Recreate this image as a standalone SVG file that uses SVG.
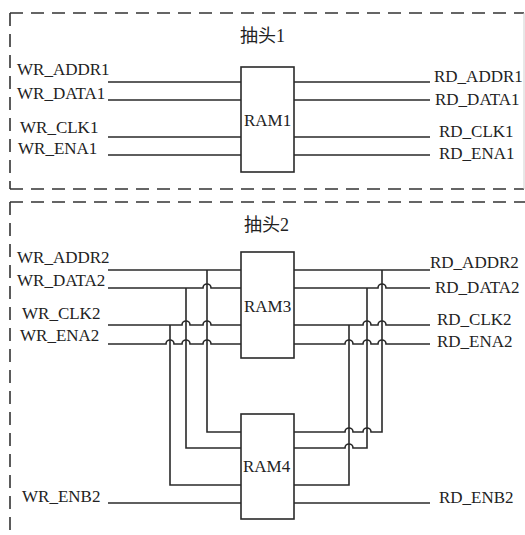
<svg xmlns="http://www.w3.org/2000/svg" width="525" height="535" viewBox="0 0 525 535">
<style>
.bg{fill:#fff}
.frame{fill:none;stroke:#333;stroke-width:1.6;stroke-dasharray:13 8}
.faint{fill:none;stroke:#d0d0d0;stroke-width:1}
.box{fill:#fff;stroke:#2a2a2a;stroke-width:1.6}
.w{fill:none;stroke:#2a2a2a;stroke-width:1.6}
text{font-family:"Liberation Serif","Noto Sans CJK SC",serif;font-size:17px;fill:#222}
.title{font-size:18px}
</style>
<rect class="bg" x="0" y="0" width="525" height="535"/>
<g id="frames">
<path class="frame" d="M10 13 H524 M10 189 H524 M10 13 V189"/>
<line class="faint" x1="524" y1="13" x2="524" y2="189"/>
<path class="frame" d="M10 202 H525 M10 202 V535"/>
</g>
<g id="connectors">
<path class="w" d="M108 82 H241 M108 100 H241 M108 137 H241 M108 155 H241"/>
<path class="w" d="M294 82 H430 M294 100 H430 M294 137 H430 M294 155 H430"/>
<path class="w" d="M108 270 H241"/>
<path class="w" d="M108 288 H203 a4 4 0 0 1 8 0 H241"/>
<path class="w" d="M108 325 H182 a4 4 0 0 1 8 0 H203 a4 4 0 0 1 8 0 H241"/>
<path class="w" d="M108 344 H166 a4 4 0 0 1 8 0 H182 a4 4 0 0 1 8 0 H203 a4 4 0 0 1 8 0 H241"/>
<path class="w" d="M207 270 V432 H241"/>
<path class="w" d="M186 288 V448 H241"/>
<path class="w" d="M170 325 V485 H241"/>
<path class="w" d="M108 503 H241"/>
<path class="w" d="M294 270 H430"/>
<path class="w" d="M294 288 H378 a4 4 0 0 1 8 0 H430"/>
<path class="w" d="M294 325 H363 a4 4 0 0 1 8 0 H378 a4 4 0 0 1 8 0 H430"/>
<path class="w" d="M294 344 H345 a4 4 0 0 1 8 0 H363 a4 4 0 0 1 8 0 H378 a4 4 0 0 1 8 0 H430"/>
<path class="w" d="M294 432 H345 a4 4 0 0 1 8 0 H363 a4 4 0 0 1 8 0 H382 V270"/>
<path class="w" d="M294 448 H345 a4 4 0 0 1 8 0 H367 V288"/>
<path class="w" d="M294 485 H349 V325"/>
<path class="w" d="M294 503 H430"/>
</g>
<g id="RAM1">
<rect class="box" x="241" y="67" width="53" height="105"/>
<text x="244" y="126">RAM1</text>
</g>
<g id="RAM3">
<rect class="box" x="241" y="252" width="53" height="106"/>
<text x="244" y="312">RAM3</text>
</g>
<g id="RAM4">
<rect class="box" x="241" y="414" width="53" height="105"/>
<text x="243" y="472">RAM4</text>
</g>
<g id="labels">
<text class="title" x="240" y="42">抽头1</text>
<text class="title" x="244" y="231">抽头2</text>
<text x="17" y="75">WR_ADDR1</text>
<text x="17" y="99">WR_DATA1</text>
<text x="20" y="133">WR_CLK1</text>
<text x="18" y="154">WR_ENA1</text>
<text x="434" y="82">RD_ADDR1</text>
<text x="435" y="105">RD_DATA1</text>
<text x="439" y="137">RD_CLK1</text>
<text x="439" y="159">RD_ENA1</text>
<text x="17" y="263">WR_ADDR2</text>
<text x="17" y="286">WR_DATA2</text>
<text x="22" y="319">WR_CLK2</text>
<text x="20" y="341">WR_ENA2</text>
<text x="430" y="268">RD_ADDR2</text>
<text x="435" y="293">RD_DATA2</text>
<text x="437" y="325">RD_CLK2</text>
<text x="437" y="347">RD_ENA2</text>
<text x="22" y="502">WR_ENB2</text>
<text x="439" y="503">RD_ENB2</text>
</g>
</svg>
